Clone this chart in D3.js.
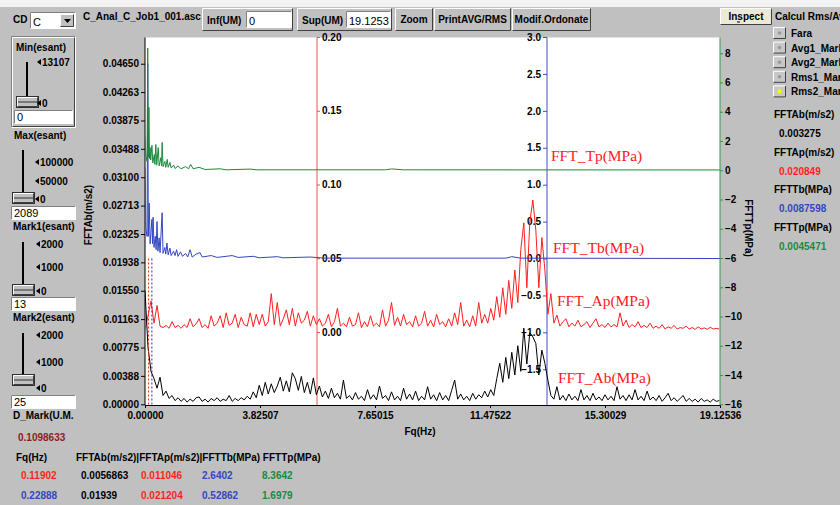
<!DOCTYPE html>
<meta charset="utf-8">
<style>
 body {
   margin: 0;
   background-color: #c0c0c0;
 }

 svg {
   font-family: "Liberation Sans", Arial, sans-serif;
   font-size: 10px;
   font-weight: bold;
 }

 .tick-label {
   fill: #000;
 }

 .series-label {
   font-family: "Liberation Serif", "Times New Roman", serif;
   font-size: 15.5px;
   font-weight: normal;
   fill: #ff1a1a;
 }

 .data path {
   fill: none;
   stroke-width: 1;
   stroke-linejoin: round;
 }
</style>

<svg width="840" height="505"></svg>

<script src="https://cdn.jsdelivr.net/npm/d3@7/dist/d3.min.js"></script>
<script>

 // ---- data ----

 // Ap and Ab spectra, one value every 0.1 Hz from 0 Hz
 var binStep = 0.1
 var fftAp = [
   0.0015, 0.011, 0.021, 0.006, 0.018, 0.004, 0.003, 0.0045, 0.0025, 0.007,
   0.003, 0.0045, 0.0025, 0.005, 0.003, 0.009, 0.0035, 0.0055, 0.009, 0.003,
   0.005, 0.0025, 0.011, 0.004, 0.006, 0.011, 0.003, 0.013, 0.0045, 0.006,
   0.012, 0.003, 0.01, 0.005, 0.004, 0.013, 0.0035, 0.012, 0.005, 0.012,
   0.004, 0.007, 0.026, 0.005, 0.02, 0.004, 0.009, 0.015, 0.005, 0.016,
   0.004, 0.013, 0.006, 0.008, 0.014, 0.004, 0.011, 0.005, 0.009, 0.004,
   0.006, 0.012, 0.0035, 0.007, 0.016, 0.004, 0.006, 0.0035, 0.01, 0.004,
   0.005, 0.013, 0.003, 0.007, 0.0035, 0.011, 0.004, 0.006, 0.0035, 0.015,
   0.004, 0.008, 0.02, 0.0045, 0.01, 0.004, 0.012, 0.005, 0.007, 0.0035,
   0.011, 0.004, 0.006, 0.014, 0.004, 0.008, 0.0035, 0.012, 0.005, 0.007,
   0.0035, 0.009, 0.004, 0.013, 0.005, 0.02, 0.004, 0.008, 0.0035, 0.011,
   0.004, 0.02, 0.006, 0.012, 0.006, 0.016, 0.008, 0.024, 0.01, 0.03,
   0.012, 0.035, 0.016, 0.042, 0.02, 0.056, 0.074, 0.03, 0.0746, 0.0895,
   0.069, 0.03, 0.064, 0.042, 0.012, 0.026, 0.006, 0.0115, 0.004, 0.007,
   0.009, 0.0035, 0.006, 0.004, 0.008, 0.0035, 0.005, 0.007, 0.003, 0.006,
   0.009, 0.0035, 0.005, 0.003, 0.006, 0.0035, 0.005, 0.0035, 0.013, 0.004,
   0.008, 0.003, 0.005, 0.0035, 0.007, 0.003, 0.0045, 0.003, 0.006, 0.0025,
   0.004, 0.0025, 0.005, 0.002, 0.0035, 0.0025, 0.0045, 0.002, 0.003, 0.0025,
   0.004, 0.002, 0.003, 0.0018, 0.0035, 0.002, 0.0028, 0.0018, 0.0032, 0.002, 0.0025, 0.002
 ]
 var fftAb = [
   0.0155, 0.0078, 0.0045, 0.0035, 0.0022, 0.0037, 0.0012, 0.0018, 0.0008, 0.0012,
   0.0005, 0.0009, 0.0004, 0.0008, 0.0003, 0.0007, 0.0004, 0.0009, 0.001, 0.0004,
   0.0007, 0.0003, 0.0008, 0.0005, 0.0009, 0.0004, 0.0007, 0.0005, 0.0012, 0.0004,
   0.0008, 0.0005, 0.0009, 0.0006, 0.0011, 0.0007, 0.0017, 0.0009, 0.0026, 0.0012,
   0.003, 0.0014, 0.0028, 0.0016, 0.0025, 0.0037, 0.0018, 0.0032, 0.0017, 0.0043,
   0.0035, 0.0019, 0.0038, 0.0016, 0.003, 0.0014, 0.0036, 0.0013, 0.0025, 0.001,
   0.0018, 0.0008, 0.0022, 0.0009, 0.0015, 0.0007, 0.0033, 0.0008, 0.0012, 0.0006,
   0.0016, 0.0007, 0.0011, 0.0005, 0.002, 0.0007, 0.0013, 0.0006, 0.0025, 0.0008,
   0.0012, 0.0005, 0.0017, 0.0006, 0.0011, 0.0005, 0.0022, 0.0007, 0.0014, 0.0006,
   0.0018, 0.0005, 0.0011, 0.0006, 0.0024, 0.0007, 0.0013, 0.0005, 0.0016, 0.0006,
   0.0012, 0.0005, 0.0019, 0.0033, 0.0007, 0.0014, 0.0006, 0.0011, 0.0005, 0.0015,
   0.0007, 0.0013, 0.0009, 0.0018, 0.001, 0.002, 0.0012, 0.0035, 0.0056, 0.003,
   0.0064, 0.0035, 0.0071, 0.004, 0.008, 0.0045, 0.0104, 0.0055, 0.0098, 0.0092,
   0.0083, 0.004, 0.0074, 0.0056, 0.0033, 0.0012, 0.0007, 0.0024, 0.0006, 0.0012,
   0.0005, 0.0014, 0.0006, 0.0011, 0.0005, 0.002, 0.0006, 0.0012, 0.0005, 0.0015,
   0.0006, 0.001, 0.0005, 0.0013, 0.0006, 0.0011, 0.0005, 0.0024, 0.0007, 0.0012,
   0.0005, 0.0013, 0.0006, 0.002, 0.0006, 0.0011, 0.0005, 0.0018, 0.0006, 0.001,
   0.0005, 0.0012, 0.0004, 0.0009, 0.0015, 0.0005, 0.0009, 0.0004, 0.0008, 0.0012,
   0.0004, 0.0008, 0.0004, 0.0007, 0.0003, 0.0008, 0.0004, 0.0006, 0.0003, 0.0007, 0.0004, 0.0005
 ]

 // Tp and Tb only move at low frequency, so they are kept as (Hz, value) pairs
 var fqTp = [0, 0.03, 0.07, 0.09, 0.11, 0.13, 0.15, 0.17, 0.19, 0.23, 0.26, 0.31, 0.33, 0.36, 0.39,
             0.44, 0.47, 0.53, 0.55, 0.57, 0.6, 0.66, 0.69, 0.74, 0.77, 0.83, 0.87, 0.95, 1.0,
             1.1, 1.2, 1.35, 1.45, 1.52, 1.6, 1.8, 2.0, 2.5, 2.7, 3.5, 3.7, 8.0, 8.2, 8.6, 19.12]
 var fftTp = [2.3, 1.0, 0.6, 8.36, 0.9, 4.3, 0.8, 1.55, 0.7, 1.70, 0.5, 1.08, 0.4, 1.76, 0.35,
              1.55, 0.3, 0.87, 0.3, 1.9, 0.25, 0.6, 0.2, 0.74, 0.2, 0.53, 0.15, 0.35, 0.12,
              0.3, 0.1, 0.25, 0.1, 0.4, 0.1, 0.2, 0.05, 0.1, 0.03, 0.08, 0.03, 0.03, 0.09, 0.03, 0.02]

 var fqTb = [0, 0.03, 0.07, 0.09, 0.11, 0.14, 0.17, 0.23, 0.25, 0.27, 0.3, 0.34, 0.37, 0.4, 0.43,
             0.47, 0.5, 0.57, 0.6, 0.66, 0.69, 0.73, 0.77, 0.83, 0.87, 0.95, 1.0, 1.05, 1.1,
             1.18, 1.25, 1.35, 1.42, 1.5, 1.57, 1.7, 1.83, 1.9, 2.2, 2.4, 2.9, 3.1, 3.6, 3.8,
             4.4, 4.6, 5.5, 6.0, 12.0, 12.2, 12.5, 19.12]
 var fftTb = [1.23, 0.4, 0.3, 2.64, 0.3, 0.75, 0.2, 0.53, 0.2, 0.56, 0.15, 0.3, 0.12, 0.5, 0.1,
              0.28, 0.08, 0.62, 0.07, 0.15, 0.06, 0.21, 0.05, 0.14, 0.04, 0.1, 0.04, 0.12, 0.03,
              0.09, 0.03, 0.07, 0.02, 0.12, 0.02, 0.06, 0.08, 0.02, 0.04, 0.015, 0.04, 0.015, 0.03, 0.01,
              0.025, 0.01, 0.02, 0.005, 0.005, 0.025, 0.005, 0.0]

 // axis ticks
 var fqTicks = [0, 3.82507, 7.65015, 11.47522, 15.30029, 19.12536]
 var abTicks = [0, 0.00388, 0.00775, 0.01163, 0.0155, 0.01938, 0.02325, 0.02713, 0.031, 0.03488,
                0.03875, 0.04263, 0.0465]
 var apTicks = [0, 0.05, 0.1, 0.15, 0.2]
 var tbTicks = [-1.5, -1.0, -0.5, 0, 0.5, 1.0, 1.5, 2.0, 2.5, 3.0]
 var tpTicks = [-16, -14, -12, -10, -8, -6, -4, -2, 0, 2, 4, 6, 8]

 // cursors and readouts
 var markFq = [0.11902, 0.22888]
 var dMark = '0.1098633'
 var tableHeader = 'FFTAb(m/s2)|FFTAp(m/s2)|FFTTb(MPa) FFTTp(MPa)'
 var tableRow1 = ['0.11902', '0.0056863', '0.011046', '2.6402', '8.3642']
 var tableRow2 = ['0.22888', '0.01939', '0.021204', '0.52862', '1.6979']
 var sideLabels = ['FFTAb(m/s2)', 'FFTAp(m/s2)', 'FFTTb(MPa)', 'FFTTp(MPa)']
 var sideValues = ['0.003275', '0.020849', '0.0087598', '0.0045471']
 var radioNames = ['Fara', 'Avg1_Mark', 'Avg2_Mark', 'Rms1_Mark', 'Rms2_Mark']

 // ---- colours ----
 var cRed = '#ff1e1e', cBlue = '#3446c0', cGreen = '#1b8a3c', cDarkRed = '#8e1c1c'

 var svg = d3.select('svg')

 // thin light strip at the very top of the window
 svg.append('rect').attr('x', 0).attr('y', 0).attr('width', 840).attr('height', 7).attr('fill', '#f2f2f2')

 // ---- little windows-ish widgets ----
 function bevel(g, x, y, w, h, raised) {
   var lt = raised ? '#ffffff' : '#808080'
   var rb = raised ? '#404040' : '#ffffff'
   g.append('path').attr('d', `M${x + .5},${y + h - .5}V${y + .5}H${x + w - .5}`)
    .attr('stroke', lt).attr('fill', 'none')
   g.append('path').attr('d', `M${x + .5},${y + h - .5}H${x + w - .5}V${y + .5}`)
    .attr('stroke', rb).attr('fill', 'none')
 }

 function label(g, x, y, txt, color, anchor) {
   return g.append('text').attr('x', x).attr('y', y)
           .attr('fill', color || '#000')
           .attr('text-anchor', anchor || 'start')
           .text(txt)
 }

 function inputBox(g, x, y, w, h, txt) {
   g.append('rect').attr('x', x).attr('y', y).attr('width', w).attr('height', h).attr('fill', '#fff')
   bevel(g, x, y, w, h, false)
   g.append('text').attr('x', x + 3).attr('y', y + h - 3.5)
    .style('font-weight', 'normal').style('font-size', '11px').text(txt)
 }

 function button(g, x, y, w, h, txt, fill) {
   g.append('rect').attr('x', x).attr('y', y).attr('width', w).attr('height', h).attr('fill', fill || '#c0c0c0')
   bevel(g, x, y, w, h, true)
   label(g, x + w / 2, y + h / 2 + 3.5, txt, '#000', 'middle')
 }

 function slider(g, x, railTop, thumbY, ticks) {
   g.append('line').attr('x1', x).attr('x2', x).attr('y1', railTop).attr('y2', thumbY)
    .attr('stroke', '#000').attr('stroke-width', 2)
   g.append('rect').attr('x', x - 10).attr('y', thumbY).attr('width', 21).attr('height', 10).attr('fill', '#c0c0c0')
   bevel(g, x - 10, thumbY, 21, 10, true)
   g.append('rect').attr('x', x - 10.5).attr('y', thumbY - .5).attr('width', 22).attr('height', 11)
    .attr('fill', 'none').attr('stroke', '#303030')
   g.append('line').attr('x1', x - 9).attr('x2', x + 10).attr('y1', thumbY + 5).attr('y2', thumbY + 5)
    .attr('stroke', '#303030')
   ticks.forEach(function (t) {
     g.append('path').attr('d', `M${t.x},${t.y}l4,-3v6z`).attr('fill', '#000')
     label(g, t.x + 5, t.y + 3.5, t.text)
   })
 }

 var ui = svg.append('g').attr('class', 'ui')

 // top row
 label(ui, 13, 23, 'CD')
 inputBox(ui, 30, 12, 46, 17, 'C')
 ui.append('rect').attr('x', 60).attr('y', 14).attr('width', 14).attr('height', 13).attr('fill', '#c0c0c0')
 bevel(ui, 60, 14, 14, 13, true)
 ui.append('path').attr('d', 'M64,19h7l-3.5,4z').attr('fill', '#000')
 label(ui, 83, 20, 'C_Anal_C_Job1_001.asc')

 ui.append('rect').attr('x', 202).attr('y', 8).attr('width', 91).attr('height', 23).attr('fill', '#c0c0c0')
 bevel(ui, 202, 8, 91, 23, true)
 label(ui, 207, 24, 'Inf(UM)')
 inputBox(ui, 246, 11, 46, 17, '0')

 ui.append('rect').attr('x', 297).attr('y', 8).attr('width', 95).attr('height', 23).attr('fill', '#c0c0c0')
 bevel(ui, 297, 8, 95, 23, true)
 label(ui, 302, 24, 'Sup(UM)')
 inputBox(ui, 346, 11, 45, 17, '19.1253')

 button(ui, 395, 8, 38, 23, 'Zoom')
 button(ui, 434, 8, 77, 23, 'PrintAVG/RMS')
 button(ui, 512, 8, 79, 23, 'Modif.Ordonate')

 button(ui, 720, 8, 52, 17, 'Inspect', '#ece9d8')
 ui.append('line').attr('x1', 737).attr('x2', 740).attr('y1', 22).attr('y2', 22).attr('stroke', '#000')
 label(ui, 775, 20, 'Calcul Rms/Av')

 radioNames.forEach(function (name, i) {
   var y = 27 + i * 14.6
   ui.append('rect').attr('x', 773).attr('y', y).attr('width', 13).attr('height', 12).attr('fill', '#c8c8c8')
   bevel(ui, 773, y, 13, 12, true)
   ui.append('circle').attr('cx', 779.5).attr('cy', y + 6).attr('r', 1.8)
     .attr('fill', i === 4 ? '#ffff00' : '#9a9a9a')
   label(ui, 791, y + 10, name)
 })

 sideLabels.forEach(function (name, i) {
   var y = 118 + i * 37.5
   label(ui, 774, y, name)
   label(ui, 779, y + 19, sideValues[i], ['#000', cRed, cBlue, cGreen][i])
 })

 // left column: sliders
 ui.append('rect').attr('x', 11).attr('y', 36).attr('width', 65).attr('height', 92).attr('fill', 'none')
 bevel(ui, 11, 36, 65, 92, false)
 bevel(ui, 12, 37, 63, 90, true)
 label(ui, 16, 51, 'Min(esant)')
 slider(ui, 27, 62, 97, [{x: 37, y: 62, text: '13107'}, {x: 37, y: 103, text: '0'}])
 inputBox(ui, 14, 110, 59, 14, '0')

 label(ui, 14, 139, 'Max(esant)')
 slider(ui, 23, 150, 193, [{x: 35, y: 162, text: '100000'}, {x: 35, y: 181, text: '50000'}, {x: 35, y: 199, text: '0'}])
 inputBox(ui, 11, 206, 65, 14, '2089')

 label(ui, 13, 230, 'Mark1(esant)')
 slider(ui, 23, 242, 285, [{x: 36, y: 244, text: '2000'}, {x: 36, y: 267, text: '1000'}, {x: 36, y: 291, text: '0'}])
 inputBox(ui, 11, 297, 65, 14, '13')

 label(ui, 13, 321, 'Mark2(esant)')
 slider(ui, 23, 333, 375, [{x: 36, y: 335, text: '2000'}, {x: 36, y: 362, text: '1000'}, {x: 36, y: 388, text: '0'}])
 inputBox(ui, 11, 395, 65, 14, '25')

 label(ui, 13, 419, 'D_Mark(U.M.')
 label(ui, 18, 441, dMark, cDarkRed)

 // bottom readout table
 var colX = [21, 81, 141, 202, 262]
 label(ui, 16, 461, 'Fq(Hz)')
 label(ui, 76, 461, tableHeader)
 tableRow1.forEach(function (v, i) {
   label(ui, colX[i], 479, v, [cRed, '#000', cRed, cBlue, cGreen][i])
 })
 tableRow2.forEach(function (v, i) {
   label(ui, colX[i], 499, v, [cBlue, '#000', cRed, cBlue, cGreen][i])
 })

 // ---- the graph ----
 var plotLeft = 145, plotRight = 720, plotTop = 37.5, plotBottom = 405

 var x = d3.scaleLinear().domain([0, 19.12536]).range([plotLeft, plotRight])
 var yAb = d3.scaleLinear().domain([0, 0.05]).range([404.3, 38.1])
 var yAp = d3.scaleLinear().domain([-0.05, 0.2]).range([405.75, 37])
 var yTb = d3.scaleLinear().domain([-2, 3]).range([406.2, 37])
 var yTp = d3.scaleLinear().domain([-16, 9]).range([404.3, 38.6])

 svg.append('rect').attr('x', plotLeft).attr('y', plotTop)
    .attr('width', plotRight - plotLeft).attr('height', plotBottom - plotTop).attr('fill', '#fff')

 svg.append('clipPath').attr('id', 'plot-clip')
    .append('rect').attr('x', plotLeft).attr('y', plotTop - 1)
    .attr('width', plotRight - plotLeft + 1).attr('height', plotBottom - plotTop + 1)

 function styleAxis(g, color) {
   g.selectAll('.domain').attr('stroke', color)
   g.selectAll('.tick line').attr('stroke', color)
   g.selectAll('.tick text').attr('class', 'tick-label').attr('fill', '#000')
   g.attr('font-family', null).attr('font-size', null)
 }

 var gx = svg.append('g').attr('transform', `translate(0,${plotBottom})`)
             .call(d3.axisBottom(x).tickValues(fqTicks).tickFormat(d3.format('.5f'))
                     .tickSizeInner(3).tickSizeOuter(0).tickPadding(4))
 styleAxis(gx, '#000')

 var gAb = svg.append('g').attr('transform', `translate(${plotLeft},0)`)
              .call(d3.axisLeft(yAb).tickValues(abTicks).tickFormat(d3.format('.5f'))
                      .tickSizeInner(4).tickSizeOuter(0).tickPadding(2))
 gAb.select('.domain').attr('d', `M0,${plotTop}V${plotBottom}`)
 styleAxis(gAb, '#000')

 var gAp = svg.append('g').attr('transform', 'translate(317,0)')
              .call(d3.axisRight(yAp).tickValues(apTicks).tickFormat(d3.format('.2f'))
                      .tickSizeInner(3).tickSizeOuter(0).tickPadding(2))
 gAp.select('.domain').attr('d', `M0,${plotTop}V${plotBottom}`)
 styleAxis(gAp, '#f05050')

 var gTb = svg.append('g').attr('transform', 'translate(547,0)')
              .call(d3.axisLeft(yTb).tickValues(tbTicks).tickFormat(d3.format('.1f'))
                      .tickSizeInner(4).tickSizeOuter(0).tickPadding(2))
 gTb.select('.domain').attr('d', `M0,${plotTop}V${plotBottom}`)
 styleAxis(gTb, '#4050c8')

 var gTp = svg.append('g').attr('transform', `translate(${plotRight},0)`)
              .call(d3.axisRight(yTp).tickValues(tpTicks).tickFormat(d3.format('d'))
                      .tickSizeInner(3).tickSizeOuter(0).tickPadding(2))
 gTp.select('.domain').attr('d', `M0,${plotTop}V${plotBottom}`)
 styleAxis(gTp, '#2f9a4a')

 // axis titles
 label(svg, 420, 435, 'Fq(Hz)', '#000', 'middle')
 svg.append('text').attr('transform', 'translate(92,215) rotate(-90)')
    .attr('text-anchor', 'middle').text('FFTAb(m/s2)')
 svg.append('text').attr('transform', 'translate(745,228) rotate(90)')
    .attr('text-anchor', 'middle').text('FFTTp(MPa)')

 // spectra
 var data = svg.append('g').attr('class', 'data').attr('clip-path', 'url(#plot-clip)')

 var lineAp = d3.line().x(function (d, i) { return x(i * binStep) }).y(function (d) { return yAp(d) })
 var lineAb = d3.line().x(function (d, i) { return x(i * binStep) }).y(function (d) { return yAb(d) })
 var lineTb = d3.line().x(function (d) { return x(d[0]) }).y(function (d) { return yTb(d[1]) })
 var lineTp = d3.line().x(function (d) { return x(d[0]) }).y(function (d) { return yTp(d[1]) })

 data.append('path').datum(fftAp).attr('d', lineAp).attr('stroke', cRed)
 data.append('path').datum(fftAb).attr('d', lineAb).attr('stroke', '#000')
 data.append('path').datum(d3.zip(fqTb, fftTb)).attr('d', lineTb).attr('stroke', cBlue)
 data.append('path').datum(d3.zip(fqTp, fftTp)).attr('d', lineTp).attr('stroke', cGreen)

 // mark cursors
 markFq.forEach(function (f, i) {
   data.append('line')
       .attr('x1', x(f)).attr('x2', x(f))
       .attr('y1', yTb(0)).attr('y2', plotBottom)
       .attr('stroke', i === 0 ? cRed : '#2030a0')
       .attr('stroke-dasharray', '2,2')
 })

 // names next to each trace
 var seriesNames = ['FFT_Tp(MPa)', 'FFT_Tb(MPa)', 'FFT_Ap(MPa)', 'FFT_Ab(MPa)']
 var seriesPos = [[551, 160.5], [553, 252.5], [557, 305.5], [558, 382.5]]
 seriesNames.forEach(function (name, i) {
   svg.append('text').attr('class', 'series-label')
      .attr('x', seriesPos[i][0]).attr('y', seriesPos[i][1]).text(name)
 })

</script>
